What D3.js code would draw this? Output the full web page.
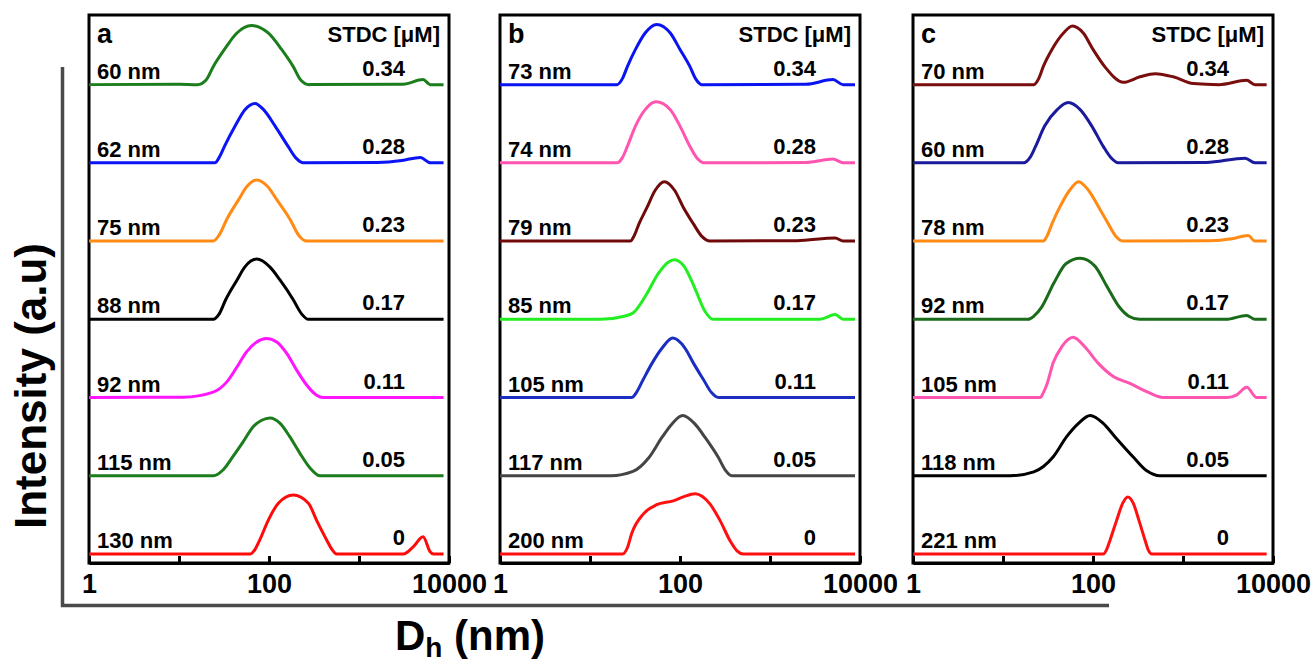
<!DOCTYPE html>
<html>
<head>
<meta charset="utf-8">
<script src="https://cdn.jsdelivr.net/npm/d3@7"></script>
<style>
body { margin: 0; background: #fff; }
svg text { font-family: "Liberation Sans", Arial, sans-serif; font-weight: bold; fill: #000; }
</style>
</head>
<body>
<svg id="chart" width="1314" height="662"></svg>
<script>
// data: [Dh (nm), intensity]
const stdcLabels = ["0.34", "0.28", "0.23", "0.17", "0.11", "0.05", "0"];
const xTickValues = [1, 10, 100, 1000, 10000];
const xTickLabels = ["1", "100", "10000"];

const sizeLabelsA = ["60 nm", "62 nm", "75 nm", "88 nm", "92 nm", "115 nm", "130 nm"];
const sizeLabelsB = ["73 nm", "74 nm", "79 nm", "85 nm", "105 nm", "117 nm", "200 nm"];
const sizeLabelsC = ["70 nm", "60 nm", "78 nm", "92 nm", "105 nm", "118 nm", "221 nm"];

const colorsA = ["#1b7d1b", "#0a14f5", "#ff8a14", "#000000", "#ff14ff", "#1b7d1b", "#ff0a0a"];
const colorsB = ["#0a14f0", "#ff55b0", "#700a0a", "#22ee22", "#1a2ec0", "#454545", "#ff1010"];
const colorsC = ["#7a0d0d", "#1a1a9c", "#ff8a14", "#1a6b1a", "#ff55b0", "#000000", "#ff1010"];

const curvesA = [
    [[1,0],[10,0.005],[16,0],[20,0.06],[24,0.23],[32,0.45],[44,0.66],[64,0.755],[98,0.66],[138,0.45],[186,0.23],[225,0.06],[280,0],[3100,0.005],[5150,0.064],[6200,0],[8700,0]],
    [[1,0],[25,0],[28,0.07],[32,0.21],[42,0.47],[54,0.68],[70,0.76],[87,0.68],[117,0.47],[163,0.21],[200,0.06],[240,0],[1600,0.005],[3000,0.03],[4800,0.07],[6200,0],[8700,0]],
    [[1,0],[24,0],[28,0.08],[34,0.28],[46,0.53],[57,0.7],[73,0.78],[96,0.7],[122,0.53],[171,0.28],[215,0.07],[262,0],[8700,0]],
    [[1,0],[24,0],[28,0.07],[33,0.25],[44,0.5],[54,0.67],[73,0.77],[102,0.67],[133,0.5],[186,0.25],[230,0.07],[274,0],[8700,0]],
    [[1,0],[11,0.005],[24,0.07],[34,0.2],[44,0.39],[56,0.58],[73,0.71],[94,0.755],[122,0.71],[158,0.56],[203,0.35],[262,0.16],[338,0.03],[400,0],[8700,0]],
    [[1,0],[24,0],[31,0.077],[40,0.25],[52,0.44],[67,0.63],[83,0.71],[102,0.74],[133,0.67],[170,0.5],[220,0.29],[286,0.1],[370,0],[8700,0]],
    [[1,0],[62,0],[70,0.06],[79,0.18],[98,0.43],[127,0.65],[186,0.755],[274,0.65],[338,0.43],[437,0.18],[500,0.06],[565,0],[3100,0],[4000,0.09],[5150,0.22],[6170,0.03],[6700,0],[8700,0]]
];

const curvesB = [
    [[1,0],[20,0],[23,0.08],[26,0.23],[32,0.45],[41,0.66],[55,0.77],[78,0.66],[100,0.45],[129,0.23],[150,0.07],[174,0],[2500,0.005],[5000,0.064],[6500,0],[8800,0]],
    [[1,0],[20,0],[23,0.07],[26,0.21],[32,0.47],[41,0.68],[54,0.78],[78,0.68],[100,0.47],[129,0.21],[155,0.06],[190,0],[2500,0.005],[5000,0.05],[6500,0],[8800,0]],
    [[1,0],[28,0],[31,0.07],[35,0.22],[43,0.43],[53,0.65],[67,0.76],[87,0.65],[109,0.43],[141,0.22],[175,0.06],[215,0],[2000,0.005],[5300,0.04],[6500,0],[8800,0]],
    [[1,0],[13,0],[24,0.04],[30,0.08],[42,0.31],[57,0.58],[74,0.73],[87,0.76],[112,0.67],[146,0.4],[190,0.1],[233,0],[3600,0],[5300,0.06],[6500,0],[8800,0]],
    [[1,0],[29,0],[33,0.07],[39,0.23],[49,0.44],[63,0.63],[83,0.76],[114,0.63],[141,0.44],[182,0.23],[225,0.06],[268,0],[8800,0]],
    [[1,0],[17,0],[30,0.055],[45,0.23],[63,0.49],[81,0.66],[107,0.77],[147,0.66],[190,0.49],[268,0.23],[320,0.07],[375,0],[8800,0]],
    [[1,0],[23,0],[26,0.08],[29,0.26],[39,0.51],[55,0.63],[84,0.68],[109,0.73],[147,0.77],[215,0.64],[278,0.43],[360,0.17],[430,0.04],[505,0],[8800,0]]
];

const curvesC = [
    [[1,0],[22,0],[25,0.08],[28,0.23],[35,0.45],[47,0.66],[59,0.75],[78,0.66],[100,0.45],[135,0.23],[218,0.03],[333,0.1],[490,0.14],[780,0.1],[1300,0.013],[2500,0],[5100,0.055],[6300,0],[8500,0]],
    [[1,0],[17,0],[20,0.07],[23,0.21],[29,0.47],[40,0.68],[53,0.77],[72,0.68],[97,0.47],[130,0.21],[160,0.06],[190,0],[1820,0.005],[4900,0.06],[6300,0],[8500,0]],
    [[1,0],[28,0],[31,0.07],[35,0.22],[43,0.44],[55,0.65],[69,0.76],[89,0.65],[115,0.44],[148,0.22],[180,0.06],[218,0],[2000,0.005],[3500,0.03],[5300,0.07],[6300,0],[8500,0]],
    [[1,0],[19,0],[22,0.04],[27,0.16],[37,0.47],[50,0.71],[72,0.78],[105,0.68],[143,0.42],[195,0.16],[250,0.04],[330,0],[3000,0],[5100,0.05],[6300,0],[8500,0]],
    [[1,0],[26,0],[28,0.06],[31,0.18],[36,0.44],[45,0.65],[60,0.77],[81,0.65],[114,0.44],[168,0.27],[257,0.18],[395,0.077],[600,0],[3080,0],[3960,0.035],[5100,0.13],[6600,0],[8500,0]],
    [[1,0],[12,0],[22,0.05],[36,0.24],[51,0.5],[69,0.67],[93,0.77],[130,0.67],[175,0.5],[280,0.24],[400,0.06],[555,0],[8500,0]],
    [[1,0],[130,0],[142,0.06],[155,0.18],[183,0.43],[214,0.65],[243,0.73],[280,0.65],[324,0.43],[378,0.18],[412,0.05],[450,0],[8500,0]]
];

let chart = d3.select("#chart");

// stacked offset scale, one unit per row
let y = d3.scaleLinear()
    .domain([-0.115, 6.89])
    .range([563, 15]);

function load_panel(left, letter, sizeLabels, colors, curves) {
    let x = d3.scaleLog()
        .domain([1, 10000])
        .range([left, left + 360]);
    let g = chart.append("g");

    // frame
    g.append("rect")
        .attr("x", left)
        .attr("y", y(6.89))
        .attr("width", 360)
        .attr("height", y(-0.115) - y(6.89))
        .attr("fill", "none")
        .attr("stroke", "#000")
        .attr("stroke-width", 3);

    // curves
    curves.forEach(function(c, i) {
        let offset = curves.length - 1 - i;
        g.append("path")
            .datum(c)
            .attr("fill", "none")
            .attr("stroke", colors[i])
            .attr("stroke-width", 3)
            .attr("stroke-linejoin", "round")
            .attr("d", d3.line()
                .curve(d3.curveMonotoneX)
                .x(function(d) { return x(d[0]); })
                .y(function(d) { return y(offset + d[1]); })
            );

        g.append("text")
            .attr("x", left + 8)
            .attr("y", y(offset) - 6)
            .style("font-size", "22px")
            .text(sizeLabels[i]);

        g.append("text")
            .attr("x", left + 316)
            .attr("y", y(offset) - 9)
            .attr("text-anchor", "end")
            .style("font-size", "22px")
            .text(stdcLabels[i]);
    });

    // x axis
    let xAxis = d3.axisBottom(x)
        .tickValues(xTickValues)
        .tickSizeInner(-7)
        .tickSizeOuter(0)
        .tickPadding(11)
        .tickFormat(function(d) { return xTickLabels.indexOf(String(d)) >= 0 ? String(d) : ""; });
    let axisGroup = g.append("g")
        .attr("transform", "translate(0," + y(-0.115) + ")")
        .call(xAxis);
    axisGroup.selectAll("path, line")
        .attr("stroke", "#000")
        .attr("stroke-width", 3);
    axisGroup.selectAll("text")
        .attr("fill", "#000")
        .style("font-family", "'Liberation Sans', Arial, sans-serif")
        .style("font-weight", "bold")
        .style("font-size", "27px");

    g.append("text")
        .attr("x", left + 8)
        .attr("y", 43)
        .style("font-size", "27px")
        .text(letter);

    g.append("text")
        .attr("x", left + 351)
        .attr("y", 42)
        .attr("text-anchor", "end")
        .style("font-size", "22px")
        .text("STDC [\u03bcM]");
}

load_panel(89, "a", sizeLabelsA, colorsA, curvesA);
load_panel(500, "b", sizeLabelsB, colorsB, curvesB);
load_panel(913, "c", sizeLabelsC, colorsC, curvesC);

// outer L-shaped axis
chart.append("path")
    .attr("d", "M62.5,67 V605.5 H1109")
    .attr("fill", "none")
    .attr("stroke", "#4a4a4a")
    .attr("stroke-width", 3.5);

chart.append("text")
    .attr("transform", "translate(46,386) rotate(-90)")
    .attr("text-anchor", "middle")
    .style("font-size", "44px")
    .text("Intensity (a.u)");

let xLabel = chart.append("text")
    .attr("x", 395)
    .attr("y", 650)
    .style("font-size", "42px");
xLabel.append("tspan").text("D");
xLabel.append("tspan").attr("dy", 7).style("font-size", "28px").text("h");
xLabel.append("tspan").attr("dy", -7).text(" (nm)");
</script>
</body>
</html>
